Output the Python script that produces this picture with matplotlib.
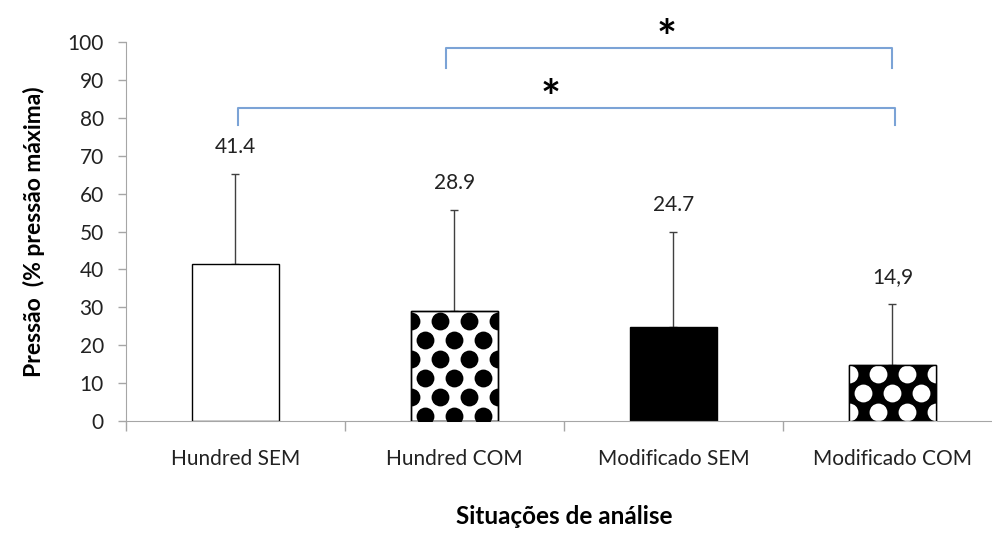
import numpy as np
import matplotlib.pyplot as plt
from matplotlib.patches import Rectangle

plt.rcParams['font.family'] = ['Lato', 'DejaVu Sans']

categories = ['Hundred SEM', 'Hundred COM', 'Modificado SEM', 'Modificado COM']
means = [41.4, 28.9, 24.7, 14.9]
sds = [23.8, 26.8, 25.2, 16.1]
value_labels = ['41.4', '28.9', '24.7', '14,9']
yticks = list(range(0, 101, 10))

grey = '#a6a6a6'
blue = '#7ba3d6'

fig = plt.figure(figsize=(9.92, 5.33), dpi=100)
ax = fig.add_axes([0.127, 0.2101, 0.883, 0.711])

x = np.arange(len(categories))
width = 0.40
faces = ['white', 'white', 'black', 'black']
bars = ax.bar(x, means, width, color=faces, edgecolor='black', linewidth=1.0, zorder=2)
ax.errorbar(x, means, yerr=[np.zeros(len(sds)), sds], fmt='none', ecolor='#404040',
            elinewidth=1.0, capsize=3, capthick=1.0, zorder=1)


def dot_fill(bar, dot_color):
    # staggered polka dots clipped to the bar
    x0 = bar.get_x()
    w = bar.get_width()
    h = bar.get_height()
    dx = 0.1324
    dy = 5.0
    pts_x, pts_y = [], []
    for r, yy in enumerate(np.arange(h - 2.5, -dy, -dy)):
        off = 0 if r % 2 == 0 else dx / 2
        for xx in np.arange(x0 - dx + off, x0 + w + dx, dx):
            pts_x.append(xx)
            pts_y.append(yy)
    sc = ax.scatter(pts_x, pts_y, s=165, marker='o', color=dot_color, linewidths=0, zorder=3)
    sc.set_clip_path(bar)
    ax.add_patch(Rectangle((x0, 0), w, h, fill=False, edgecolor='black', linewidth=1.0, zorder=4))


dot_fill(bars[1], 'black')
dot_fill(bars[3], 'white')

for xi, m, s, lab in zip(x, means, sds, value_labels):
    ax.text(xi, m + s + 7, lab, ha='center', va='center', fontsize=15, color='#222222')

# significance brackets
def bracket(x1, x2, y, drop, star_x, star_y):
    ax.plot([x1, x1, x2, x2], [y - drop, y, y, y - drop], color=blue, linewidth=1.5,
            clip_on=False, solid_joinstyle='round')
    ax.text(star_x, star_y, '*', ha='center', va='center', fontsize=34,
            fontweight='bold', color='black', clip_on=False)


bracket(0.96, 3.0, 98.4, 5.3, 1.97, 100.5)
bracket(0.01, 3.01, 82.6, 4.5, 1.44, 84.8)

ax.set_xlim(-0.5, 3.5)
ax.set_ylim(0, 100)
ax.set_yticks(yticks)
ax.set_yticklabels([str(t) for t in yticks], fontsize=15, color='#222222')
ax.set_xticks(x)
ax.set_xticklabels(categories, fontsize=15, color='#222222')
ax.tick_params(axis='x', length=0, pad=20)
ax.set_xticks(np.arange(-0.5, 3.6, 1.0), minor=True)
ax.tick_params(axis='x', which='minor', length=7, color=grey, width=1.0)
ax.tick_params(axis='y', length=6, color=grey, width=1.0, pad=10)

for side in ['top', 'right']:
    ax.spines[side].set_visible(False)
ax.spines['left'].set_color(grey)
ax.spines['bottom'].set_color(grey)

ax.set_ylabel('Pressão  (% pressão máxima)', fontsize=16.5, fontweight='bold', labelpad=16)
ax.set_xlabel('Situações de análise', fontsize=17.5, fontweight='bold', labelpad=26)

plt.savefig('out.png', dpi=100)
